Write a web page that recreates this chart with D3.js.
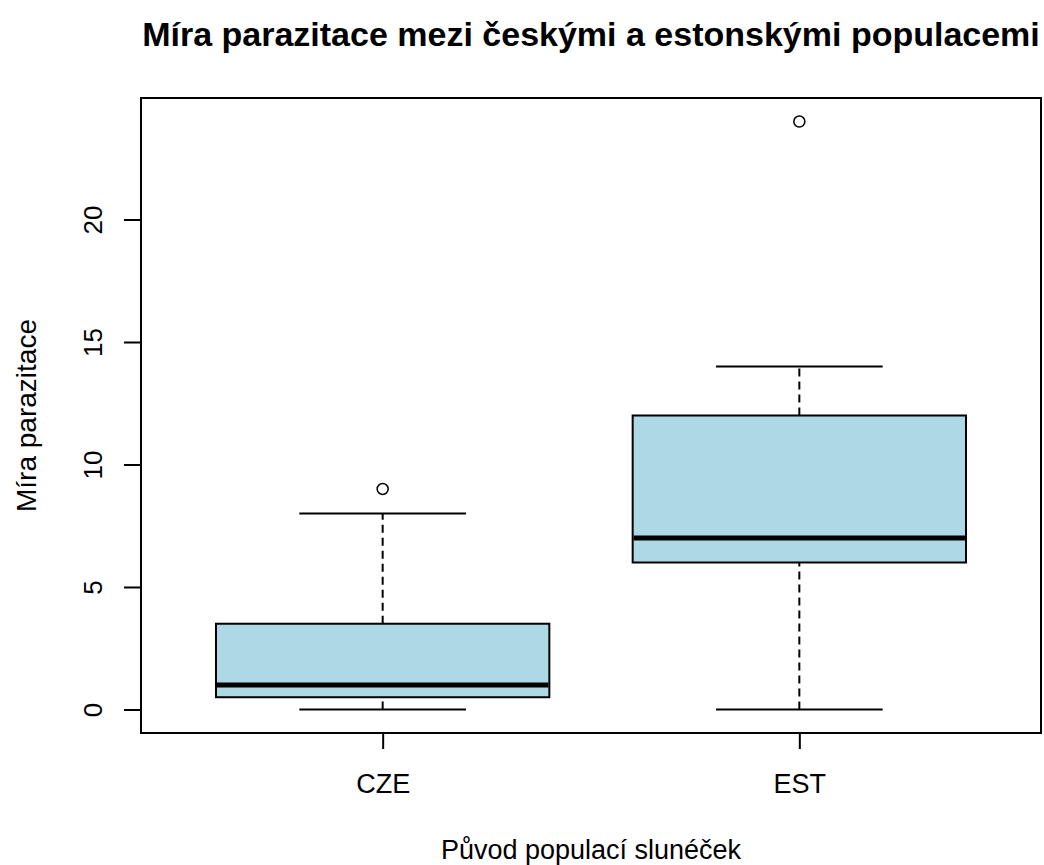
<!DOCTYPE html>
<html>
<head>
<meta charset="utf-8">
<script src="https://cdn.jsdelivr.net/npm/d3@7"></script>
<style>
  body { margin: 0; background: #fff; }
  text { font-family: "Liberation Sans", Arial, sans-serif; fill: #000; }
</style>
</head>
<body>
<svg></svg>
<script>
const size = {w: 1044, h: 865};
const plot = {l: 141, r: 1041, t: 98, b: 733};

// data
const groups = ['CZE', 'EST'];
const whiskerLow = [0, 0];
const q1 = [0.5, 6];
const medians = [1, 7];
const q3 = [3.5, 12];
const whiskerHigh = [8, 14];
const outliers = [[9], [24]];
const yTicks = [0, 5, 10, 15, 20];

const svg = d3.select('svg')
    .attr('width', size.w)
    .attr('height', size.h);

// R style axis extension (4%)
let x = d3.scaleLinear().domain([0.42, 2.58]).range([plot.l, plot.r]);
let y = d3.scaleLinear().domain([-0.96, 24.96]).range([plot.b, plot.t]);

const boxes = groups.map((g, i) => ({
    name: g, pos: i + 1, lo: whiskerLow[i], q1: q1[i], med: medians[i],
    q3: q3[i], hi: whiskerHigh[i], out: outliers[i]
}));

const boxG = svg.append('g').classed('boxes', true);
const half = 0.4, cap = 0.2;

// dashed whiskers
boxG.selectAll('line.whisk-lo').data(boxes).join('line')
    .attr('x1', d => x(d.pos)).attr('x2', d => x(d.pos))
    .attr('y1', d => y(d.lo)).attr('y2', d => y(d.q1))
    .attr('stroke', '#000').attr('stroke-width', 2).attr('stroke-dasharray', '8,5');
boxG.selectAll('line.whisk-hi').data(boxes).join('line')
    .attr('x1', d => x(d.pos)).attr('x2', d => x(d.pos))
    .attr('y1', d => y(d.q3)).attr('y2', d => y(d.hi))
    .attr('stroke', '#000').attr('stroke-width', 2).attr('stroke-dasharray', '8,5');

// staples
['lo', 'hi'].forEach(k => {
    boxG.selectAll('line.cap-' + k).data(boxes).join('line')
        .attr('x1', d => x(d.pos - cap)).attr('x2', d => x(d.pos + cap))
        .attr('y1', d => y(d[k])).attr('y2', d => y(d[k]))
        .attr('stroke', '#000').attr('stroke-width', 2);
});

boxG.selectAll('rect').data(boxes).join('rect')
    .attr('x', d => x(d.pos - half))
    .attr('width', d => x(d.pos + half) - x(d.pos - half))
    .attr('y', d => y(d.q3))
    .attr('height', d => y(d.q1) - y(d.q3))
    .attr('fill', '#add8e6')
    .attr('stroke', '#000').attr('stroke-width', 2);

boxG.selectAll('line.median').data(boxes).join('line')
    .attr('x1', d => x(d.pos - half) + 1).attr('x2', d => x(d.pos + half) - 1)
    .attr('y1', d => y(d.med)).attr('y2', d => y(d.med))
    .attr('stroke', '#000').attr('stroke-width', 5);

const outData = boxes.flatMap(d => d.out.map(v => ({pos: d.pos, v: v})));
boxG.selectAll('circle').data(outData).join('circle')
    .attr('cx', d => x(d.pos)).attr('cy', d => y(d.v))
    .attr('r', 5.5)
    .attr('fill', 'none').attr('stroke', '#000').attr('stroke-width', 1.5);

// frame
svg.append('rect')
    .attr('x', plot.l).attr('y', plot.t)
    .attr('width', plot.r - plot.l).attr('height', plot.b - plot.t)
    .attr('fill', 'none').attr('stroke', '#000').attr('stroke-width', 2);

// y axis
const yAxis = svg.append('g')
    .attr('transform', `translate(${plot.l},0)`)
    .call(d3.axisLeft(y).tickValues(yTicks).tickSize(17).tickPadding(0).tickFormat(d3.format('d')));
yAxis.select('.domain')
    .attr('d', `M0,${y(0)}V${y(20)}`).attr('stroke-width', 2);
yAxis.selectAll('.tick line').attr('stroke-width', 2);
yAxis.selectAll('.tick text')
    .attr('x', null).attr('dy', null)
    .attr('text-anchor', 'middle')
    .attr('transform', 'translate(-39,0) rotate(-90)')
    .style('font-size', '26px')
    .style('font-family', '"Liberation Sans", Arial, sans-serif');

// x axis
const xAxis = svg.append('g')
    .attr('transform', `translate(0,${plot.b})`)
    .call(d3.axisBottom(x).tickValues([1, 2]).tickSize(16)
        .tickFormat(d => groups[d - 1]));
xAxis.select('.domain').attr('d', `M${x(1)},0H${x(2)}`).attr('stroke-width', 2);
xAxis.selectAll('.tick line').attr('stroke-width', 2);
xAxis.selectAll('.tick text')
    .attr('y', 60).attr('dy', null)
    .style('font-size', '27px')
    .style('font-family', '"Liberation Sans", Arial, sans-serif');

// titles
svg.append('text')
    .attr('x', (plot.l + plot.r) / 2).attr('y', 46)
    .attr('text-anchor', 'middle')
    .style('font-size', '34px').style('font-weight', 'bold')
    .text('Míra parazitace mezi českými a estonskými populacemi');

svg.append('text')
    .attr('x', (plot.l + plot.r) / 2).attr('y', 859)
    .attr('text-anchor', 'middle')
    .style('font-size', '27px')
    .text('Původ populací slunéček');

svg.append('text')
    .attr('transform', `translate(36,${(plot.t + plot.b) / 2}) rotate(-90)`)
    .attr('text-anchor', 'middle')
    .style('font-size', '28px')
    .text('Míra parazitace');
</script>
</body>
</html>
